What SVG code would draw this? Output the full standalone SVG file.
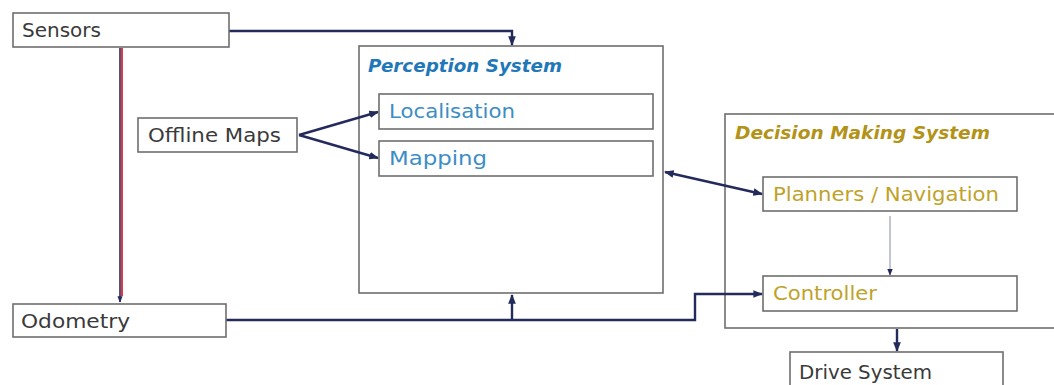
<svg xmlns="http://www.w3.org/2000/svg" width="1054" height="385" viewBox="0 0 1054 385">
  <style>
    .box { fill: #ffffff; stroke: #6e6e6e; stroke-width: 1.6; }
    .frame { fill: none; stroke: #6e6e6e; stroke-width: 1.6; }
    .lbl { font-family: "DejaVu Sans", "Liberation Sans", sans-serif; font-size: 19px; fill: #3a3a3a; }
    .blue { fill: #3b8dc6; }
    .gold { fill: #bfa22a; }
    .title { font-family: "DejaVu Sans", "Liberation Sans", sans-serif; font-size: 18px; font-weight: bold; font-style: italic; }
    .ttl-blue { fill: #1f78b8; }
    .ttl-gold { fill: #b39317; }
    .conn { fill: none; stroke: #232a5c; stroke-width: 2.4; }
    .thin { fill: none; stroke: #a9adc4; stroke-width: 1.4; }
  </style>
  <defs>
    <marker id="arr" viewBox="0 0 10 10" refX="9" refY="5" markerWidth="4" markerHeight="4" orient="auto-start-reverse" markerUnits="strokeWidth">
      <path d="M0,1 L10,5 L0,9 Z" fill="#232a5c"/>
    </marker>
    <marker id="arrSmall" viewBox="0 0 10 10" refX="9" refY="5" markerWidth="5" markerHeight="5" orient="auto" markerUnits="strokeWidth">
      <path d="M0,1 L10,5 L0,9 Z" fill="#232a5c"/>
    </marker>
  </defs>

  <rect width="1054" height="385" fill="#ffffff"/>

  <!-- container frames (drawn first so connectors can cross them) -->
  <g id="perception-system">
    <rect class="frame" x="359" y="46" width="304" height="247"/>
    <text class="title ttl-blue" x="368" y="72" textLength="194" lengthAdjust="spacingAndGlyphs">Perception System</text>
  </g>

  <g id="decision-making-system">
    <rect class="frame" x="725" y="114" width="340" height="214"/>
    <text class="title ttl-gold" x="735" y="139" textLength="255" lengthAdjust="spacingAndGlyphs">Decision Making System</text>
  </g>

  <!-- connectors -->
  <g id="connectors">
    <!-- Sensors to Perception System -->
    <path class="conn" d="M229,31 H512 V45" marker-end="url(#arr)"/>
    <!-- Sensors to Odometry (navy and red pair) -->
    <line x1="120" y1="48" x2="120" y2="302" stroke="#232a5c" stroke-width="1.6" marker-end="url(#arr)"/>
    <line x1="122" y1="48" x2="122" y2="296" stroke="#e02030" stroke-width="1.8"/>
    <!-- Offline Maps to Localisation / Mapping -->
    <path class="conn" d="M299,135 L378,112" marker-end="url(#arr)"/>
    <path class="conn" d="M299,135 L378,158" marker-end="url(#arr)"/>
    <!-- Perception System <-> Planners -->
    <path class="conn" d="M665,172 L762,194" marker-start="url(#arr)" marker-end="url(#arr)"/>
    <!-- Planners to Controller -->
    <path class="thin" d="M890,216 V275" marker-end="url(#arrSmall)"/>
    <!-- Odometry to Perception System and Controller -->
    <path class="conn" d="M226,320 H695 V294 H762" marker-end="url(#arr)"/>
    <path class="conn" d="M512,320 V295" marker-end="url(#arr)"/>
    <!-- Decision Making System to Drive System -->
    <path class="conn" d="M897,329 V351" marker-end="url(#arr)"/>
  </g>

  <g id="sensors">
    <rect class="box" x="13" y="13" width="216" height="34"/>
    <text class="lbl" x="22" y="37" textLength="79" lengthAdjust="spacingAndGlyphs">Sensors</text>
  </g>

  <g id="localisation">
    <rect class="box" x="379" y="94" width="274" height="35"/>
    <text class="lbl blue" x="389" y="118" textLength="126" lengthAdjust="spacingAndGlyphs">Localisation</text>
  </g>

  <g id="mapping">
    <rect class="box" x="379" y="141" width="274" height="35"/>
    <text class="lbl blue" x="389" y="165" textLength="98" lengthAdjust="spacingAndGlyphs">Mapping</text>
  </g>

  <g id="offline-maps">
    <rect class="box" x="138" y="118" width="159" height="34"/>
    <text class="lbl" x="148" y="142" textLength="133" lengthAdjust="spacingAndGlyphs">Offline Maps</text>
  </g>

  <g id="planners">
    <rect class="box" x="763" y="177" width="254" height="34"/>
    <text class="lbl gold" x="773" y="201" textLength="226" lengthAdjust="spacingAndGlyphs">Planners / Navigation</text>
  </g>

  <g id="controller">
    <rect class="box" x="763" y="276" width="254" height="35"/>
    <text class="lbl gold" x="773" y="300" textLength="104" lengthAdjust="spacingAndGlyphs">Controller</text>
  </g>

  <g id="odometry">
    <rect class="box" x="13" y="304" width="213" height="33"/>
    <text class="lbl" x="21" y="328" textLength="109" lengthAdjust="spacingAndGlyphs">Odometry</text>
  </g>

  <g id="drive-system">
    <rect class="box" x="790" y="352" width="213" height="40"/>
    <text class="lbl" x="799" y="379" textLength="133" lengthAdjust="spacingAndGlyphs">Drive System</text>
  </g>
</svg>
